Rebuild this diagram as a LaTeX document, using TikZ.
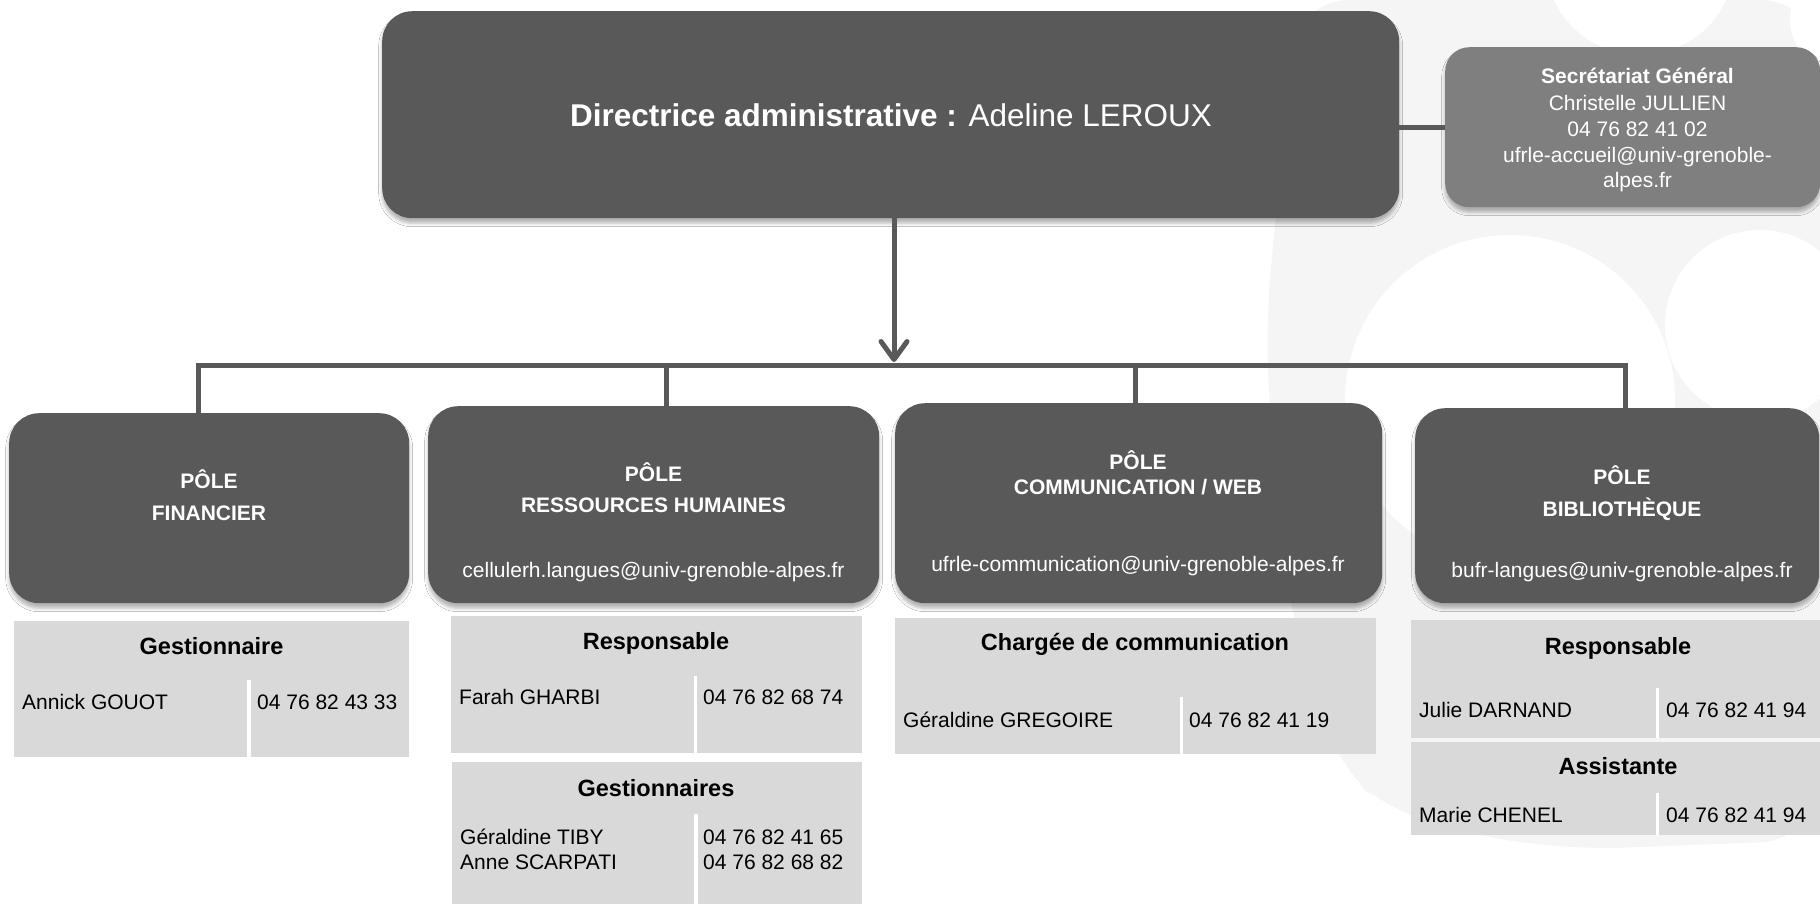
\documentclass[tikz,border=0pt]{standalone}
\usepackage{fontspec}
\setmainfont{Liberation Sans}
\usetikzlibrary{arrows.meta,shadows.blur}
\definecolor{boxdark}{HTML}{595959}
\definecolor{boxmid}{HTML}{7F7F7F}
\definecolor{tabgray}{HTML}{D9D9D9}
\definecolor{wmgray}{HTML}{F5F5F5}
\definecolor{linegray}{HTML}{595959}
\newcommand{\fsz}[1]{\fontsize{#1}{#1}\selectfont}
\tikzset{
  shad/.style={blur shadow={shadow xshift=0pt,shadow yshift=-5pt,shadow blur radius=3.5pt,shadow opacity=30}},
  darkbox/.style={fill=boxdark, rounded corners=30pt, inner sep=0pt, anchor=north west, shad},
  secbox/.style={fill=boxmid, rounded corners=24pt, inner sep=0pt, anchor=north west, shad},
  tabbox/.style={fill=tabgray, inner sep=0pt, anchor=north west},
  conn/.style={draw=linegray, line width=5pt},
  divider/.style={draw=white, line width=3.5pt},
  wtxt/.style={text=white, inner sep=0pt, anchor=base, font=\fsz{21}},
  wbold/.style={wtxt, font=\fsz{21}\bfseries},
  hdr/.style={text=black, inner sep=0pt, anchor=base, font=\fsz{23.5}\bfseries},
  cell/.style={text=black, inner sep=0pt, anchor=base west, font=\fsz{21}},
}
\begin{document}
\begin{tikzpicture}[x=1pt,y=-1pt]
\useasboundingbox (0,0) rectangle (1820,903);
\fill[white] (0,0) rectangle (1820,903);
% watermark
\fill[wmgray, rounded corners=60pt] (1290,0) -- (1820,0) -- (1820,840) -- (1560,850) -- (1400,820) -- (1330,760) -- (1280,560) -- (1265,330) -- (1285,120) -- cycle;
\fill[white] (1510,400) circle (165);
\fill[white] (1760,325) circle (95);
\fill[white] (1640,-40) circle (95);
\fill[white] (1840,20) circle (50);

% coordinates for connectors
\coordinate (ax) at (894,362);
\coordinate (busL) at (198,365);
\coordinate (busR) at (1625,365);
\coordinate (d2) at (666.5,365);
\coordinate (d3) at (1135,365);

% boxes
\node[darkbox, minimum width=1017pt, minimum height=207pt] (dir) at (382,11) {};
\node[secbox, minimum width=375pt, minimum height=160pt] (sec) at (1445,47) {};
\node[darkbox, minimum width=400pt, minimum height=190pt] (p1) at (9,413) {};
\node[darkbox, minimum width=451pt, minimum height=197pt] (p2) at (428,406) {};
\node[darkbox, minimum width=487pt, minimum height=200pt] (p3) at (895,403) {};
\node[darkbox, minimum width=404pt, minimum height=195pt] (p4) at (1415,408) {};

% connectors
\draw[conn] (sec.west) -- (sec.west -| dir.east);
\draw[conn, -{Straight Barb[length=18pt,width=26pt,round]}] (dir.south -| ax) -- (ax);
\draw[conn, line join=miter] (p1.north -| busL) -- (busL) -- (busR) -- (p4.north -| busR);
\draw[conn] (d2) -- (d2 |- p2.north);
\draw[conn] (d3) -- (d3 |- p3.north);

% texts in boxes
\node[wtxt, font=\fsz{31.5}] (dirt) at (891,126.5) {\textbf{Directrice administrative :} Adeline LEROUX};
\node[wbold] (sec1) at (1637.5,83.5) {Secrétariat Général};
\node[wtxt] (sec2) at (1637.5,110) {Christelle JULLIEN};
\node[wtxt] (sec3) at (1637.5,136.5) {04 76 82 41 02};
\node[wtxt] (sec4) at (1637.5,162.2) {ufrle-accueil@univ-grenoble-};
\node[wtxt] (sec5) at (1637.5,187.5) {alpes.fr};

\node[wbold] (p1a) at (209,488.5) {PÔLE};
\node[wbold] (p1b) at (209,520.5) {FINANCIER};

\node[wbold] (p2a) at (653.5,481) {PÔLE};
\node[wbold] (p2b) at (653.5,512.5) {RESSOURCES HUMAINES};
\node[wtxt] (p2c) at (653.5,577.5) {cellulerh.langues@univ-grenoble-alpes.fr};

\node[wbold] (p3a) at (1138,469.5) {PÔLE};
\node[wbold] (p3b) at (1138,494.5) {COMMUNICATION / WEB};
\node[wtxt] (p3c) at (1138,571.5) {ufrle-communication@univ-grenoble-alpes.fr};

\node[wbold] (p4a) at (1622,484.5) {PÔLE};
\node[wbold] (p4b) at (1622,516.5) {BIBLIOTHÈQUE};
\node[wtxt] (p4c) at (1622,577.5) {bufr-langues@univ-grenoble-alpes.fr};

% tables
\node[tabbox, minimum width=395pt, minimum height=136pt] (t1) at (14,621) {};
\node[tabbox, minimum width=411pt, minimum height=137pt] (t2a) at (451,616) {};
\node[tabbox, minimum width=410pt, minimum height=148pt] (t2b) at (452,762) {};
\node[tabbox, minimum width=481pt, minimum height=136pt] (t3) at (895,618) {};
\node[tabbox, minimum width=409pt, minimum height=118pt] (t4a) at (1411,620) {};
\node[tabbox, minimum width=409pt, minimum height=93pt] (t4b) at (1411,742) {};

\draw[divider] (249,680) -- (249,757);
\draw[divider] (695.5,676) -- (695.5,753);
\draw[divider] (696,814) -- (696,910);
\draw[divider] (1181.5,697) -- (1181.5,754);
\draw[divider] (1657.5,688) -- (1657.5,738);
\draw[divider] (1657.5,793) -- (1657.5,835);

\node[hdr] (t1h) at (211.5,654.4) {Gestionnaire};
\node[cell] (t1n) at (22,709.5) {Annick GOUOT};
\node[cell] (t1p) at (257,709.5) {04 76 82 43 33};

\node[hdr] (t2ah) at (656,649.4) {Responsable};
\node[cell] (t2an) at (459,704.5) {Farah GHARBI};
\node[cell] (t2ap) at (703,704.5) {04 76 82 68 74};

\node[hdr] (t2bh) at (656,796) {Gestionnaires};
\node[cell] (t2bn1) at (460,844.5) {Géraldine TIBY};
\node[cell] (t2bp1) at (703,844.5) {04 76 82 41 65};
\node[cell] (t2bn2) at (460,869) {Anne SCARPATI};
\node[cell] (t2bp2) at (703,869) {04 76 82 68 82};

\node[hdr] (t3h) at (1135,650) {Chargée de communication};
\node[cell] (t3n) at (903,727) {Géraldine GREGOIRE};
\node[cell] (t3p) at (1189,727) {04 76 82 41 19};

\node[hdr] (t4ah) at (1618,654.5) {Responsable};
\node[cell] (t4an) at (1419,717.5) {Julie DARNAND};
\node[cell] (t4ap) at (1666,717.5) {04 76 82 41 94};

\node[hdr] (t4bh) at (1618,774.5) {Assistante};
\node[cell] (t4bn) at (1419,822.5) {Marie CHENEL};
\node[cell] (t4bp) at (1666,822.5) {04 76 82 41 94};
\end{tikzpicture}
\end{document}
